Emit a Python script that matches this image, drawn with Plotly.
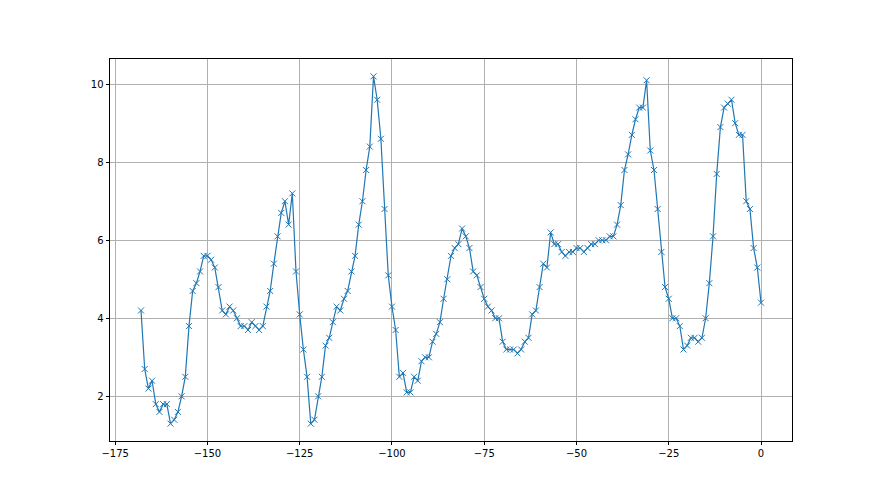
import plotly.graph_objects as go

x_values = list(range(-168, 1))
y_values = [
    4.2, 2.7, 2.2, 2.4, 1.8, 1.6, 1.8, 1.8, 1.3, 1.4,      # -168..-159
    1.6, 2.0, 2.5, 3.8, 4.7, 4.9, 5.2, 5.6, 5.6, 5.5,      # -158..-149
    5.3, 4.8, 4.2, 4.1, 4.3, 4.2, 4.0, 3.8, 3.8, 3.7,      # -148..-139
    3.9, 3.8, 3.7, 3.8, 4.3, 4.7, 5.4, 6.1, 6.7, 7.0,      # -138..-129
    6.4, 7.2, 5.2, 4.1, 3.2, 2.5, 1.3, 1.4, 2.0, 2.5,      # -128..-119
    3.3, 3.5, 3.9, 4.3, 4.2, 4.5, 4.7, 5.2, 5.6, 6.4,      # -118..-109
    7.0, 7.8, 8.4, 10.2, 9.6, 8.6, 6.8, 5.1, 4.3, 3.7,     # -108..-99
    2.5, 2.6, 2.1, 2.1, 2.5, 2.4, 2.9, 3.0, 3.0, 3.4,      # -98..-89
    3.6, 3.9, 4.5, 5.0, 5.6, 5.8, 5.9, 6.3, 6.1, 5.8,      # -88..-79
    5.2, 5.1, 4.8, 4.5, 4.3, 4.2, 4.0, 4.0, 3.4, 3.2,      # -78..-69
    3.2, 3.2, 3.1, 3.2, 3.4, 3.5, 4.1, 4.2, 4.8, 5.4,      # -68..-59
    5.3, 6.2, 5.9, 5.9, 5.7, 5.6, 5.7, 5.7, 5.8, 5.8,      # -58..-49
    5.7, 5.8, 5.9, 5.9, 6.0, 6.0, 6.0, 6.1, 6.1, 6.4,      # -48..-39
    6.9, 7.8, 8.2, 8.7, 9.1, 9.4, 9.4, 10.1, 8.3, 7.8,     # -38..-29
    6.8, 5.7, 4.8, 4.5, 4.0, 4.0, 3.8, 3.2, 3.3, 3.5,      # -28..-19
    3.5, 3.4, 3.5, 4.0, 4.9, 6.1, 7.7, 8.9, 9.4, 9.5,      # -18..-9
    9.6, 9.0, 8.7, 8.7, 7.0, 6.8, 5.8, 5.3, 4.4,           # -8..0
]

x_ticks = [-175, -150, -125, -100, -75, -50, -25, 0]
y_ticks = [2, 4, 6, 8, 10]

def fmt(v):
    return str(v).replace("-", "\u2212")

fig = go.Figure()
fig.add_trace(go.Scatter(
    x=x_values, y=y_values, mode="lines+markers",
    line=dict(color="#1f77b4", width=1.2),
    marker=dict(symbol="x-thin", size=6, color="#1f77b4",
                line=dict(width=1, color="#1f77b4")),
    showlegend=False,
))

xmin, xmax = min(x_values), max(x_values)
ymin, ymax = min(y_values), max(y_values)
xpad = (xmax - xmin) * 0.05
ypad = (ymax - ymin) * 0.05

axis_common = dict(
    showgrid=True, gridcolor="#b0b0b0", gridwidth=0.8,
    showline=True, linecolor="black", linewidth=0.8, mirror=True,
    ticks="outside", ticklen=3.5, tickwidth=0.8, tickcolor="black",
    zeroline=False,
    tickfont=dict(family="DejaVu Sans", size=10, color="black"),
)

fig.update_xaxes(range=[xmin - xpad, xmax + xpad], tickvals=x_ticks,
                 ticktext=[fmt(v) for v in x_ticks], **axis_common)
fig.update_yaxes(range=[ymin - ypad, ymax + ypad], tickvals=y_ticks,
                 ticktext=[fmt(v) for v in y_ticks], **axis_common)

fig.update_layout(
    width=880, height=495,
    margin=dict(l=102, r=96, t=51, b=62),
    paper_bgcolor="white", plot_bgcolor="white",
)

fig.write_html("out.html")
